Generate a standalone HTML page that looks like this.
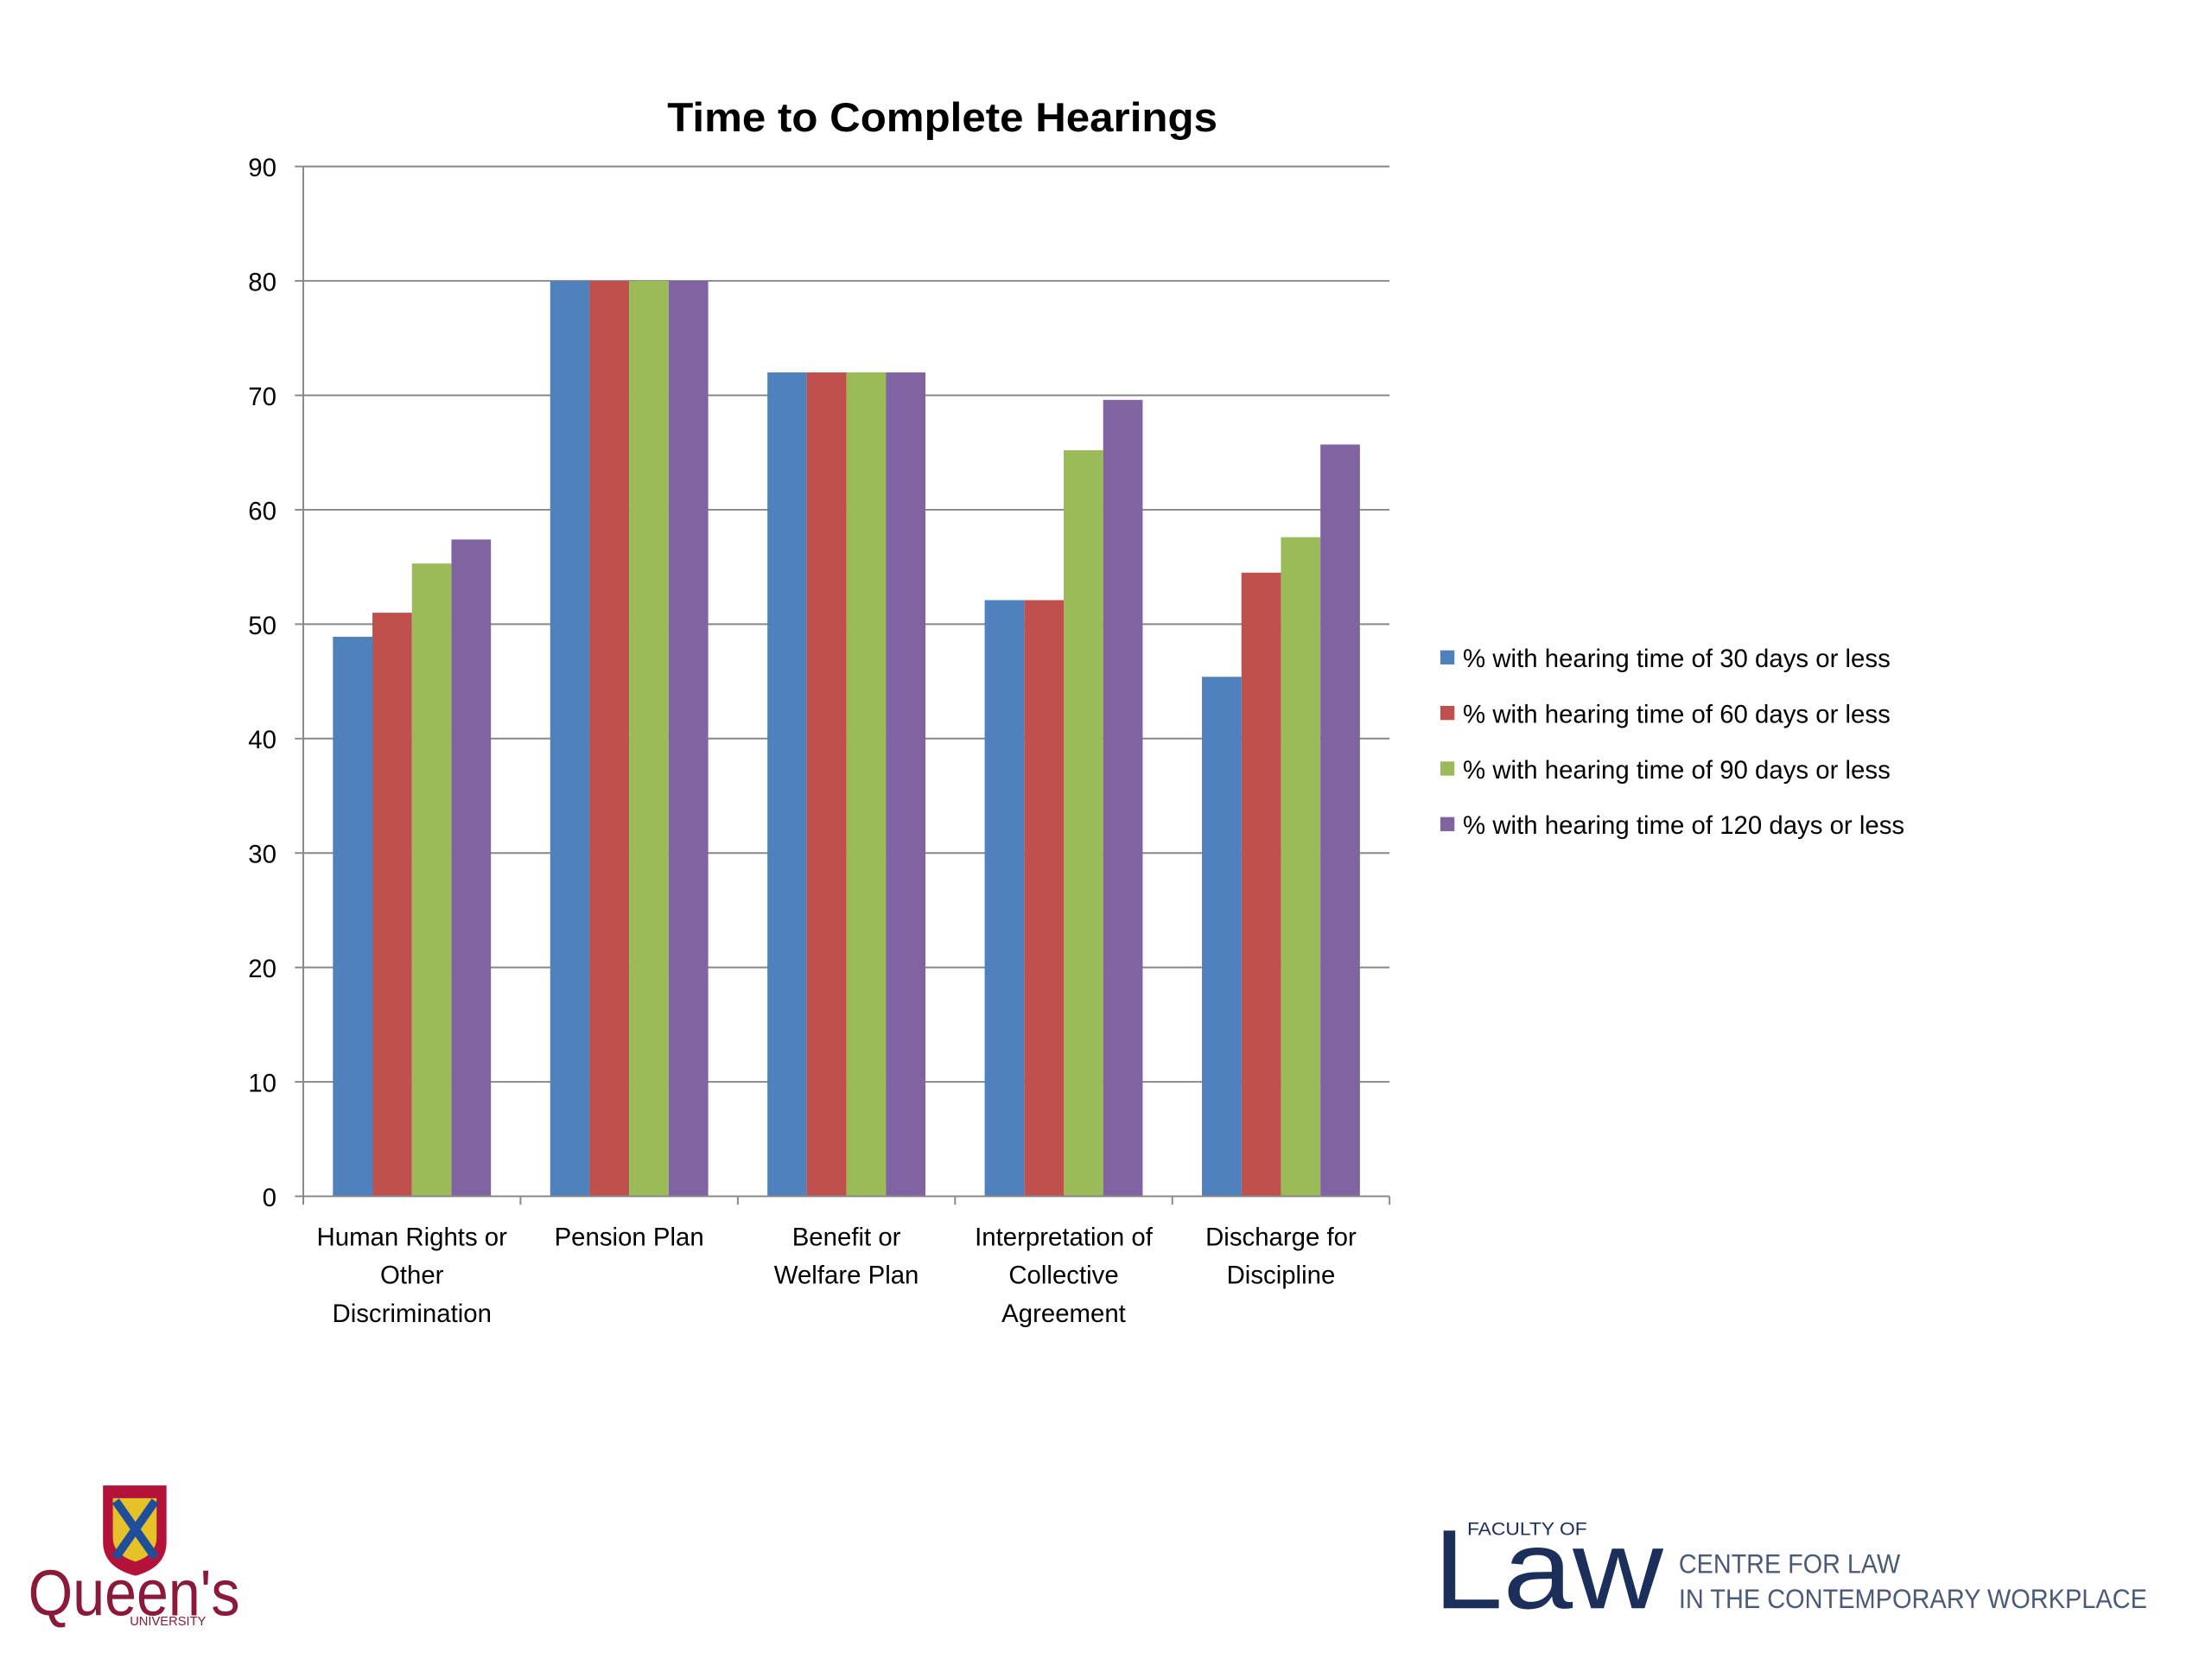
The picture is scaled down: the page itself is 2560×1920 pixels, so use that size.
<!DOCTYPE html>
<html><head><meta charset="utf-8"><style>
html,body{margin:0;padding:0;background:#fff;width:2560px;height:1920px;overflow:hidden}
svg{display:block}
text{font-family:"Liberation Sans",sans-serif}
</style></head><body>
<svg id="chart" width="2560" height="1920" viewBox="0 0 1568 1176" preserveAspectRatio="none" xmlns="http://www.w3.org/2000/svg">
<text x="668" y="93" text-anchor="middle" font-size="29" font-weight="bold" fill="#000" textLength="390" lengthAdjust="spacingAndGlyphs">Time to Complete Hearings</text>
<g id="grid"></g>
<g id="bars"></g>
<g id="axes"></g>
<g id="legend"></g>
<g>
<path d="M73 1053 h45 v40 q0 18 -22 24 q-23 -6 -23 -24z" fill="#b5123a"/>
<path d="M80 1062 h31 v28 q0 12 -15 17 q-16 -5 -16 -17z" fill="#e6c229"/>
<path d="M82 1064 l28 40 M110 1064 l-28 40" stroke="#1f4e9b" stroke-width="6"/>
<text x="20" y="1145" font-family="Liberation Serif,serif" font-size="46" fill="#8b1a3a" textLength="150" lengthAdjust="spacingAndGlyphs">Queen's</text>
<text x="92" y="1152" font-family="Liberation Serif,serif" font-size="9" fill="#8b1a3a">UNIVERSITY</text>
</g>
<g>
<text x="1040" y="1088" font-size="13" fill="#1b2f5a" textLength="85" lengthAdjust="spacingAndGlyphs">FACULTY OF</text>
<text x="1016" y="1140" font-family="Liberation Serif,serif" font-size="80" fill="#1b2f5a" textLength="163" lengthAdjust="spacingAndGlyphs">Law</text>
<text x="1190" y="1115" font-size="19" fill="#4a5a78" textLength="157" lengthAdjust="spacingAndGlyphs">CENTRE FOR LAW</text>
<text x="1190" y="1140" font-size="19" fill="#4a5a78" textLength="332" lengthAdjust="spacingAndGlyphs">IN THE CONTEMPORARY WORKPLACE</text>
</g>
</svg>
<script>
const categories = [["Human Rights or","Other","Discrimination"],["Pension Plan"],["Benefit or","Welfare Plan"],["Interpretation of","Collective","Agreement"],["Discharge for","Discipline"]];
const seriesNames = ["% with hearing time of 30 days or less","% with hearing time of 60 days or less","% with hearing time of 90 days or less","% with hearing time of 120 days or less"];
const s30 = [48.9, 80, 72, 52.1, 45.4];
const s60 = [51, 80, 72, 52.1, 54.5];
const s90 = [55.3, 80, 72, 65.2, 57.6];
const s120 = [57.4, 80, 72, 69.6, 65.7];
const yTicks = [0,10,20,30,40,50,60,70,80,90];

const colors = ["#4f81bd","#c0504d","#9bbb59","#8064a2"];
const series = [s30,s60,s90,s120];
const NS="http://www.w3.org/2000/svg";
const X0=215, X1=985, Y0=848, Y1=118, YMAX=90;
const y = v => Y0 - (v/YMAX)*(Y0-Y1);
const bandW = (X1-X0)/categories.length;
const x = i => X0 + i*bandW;
const barW = 28, pad = (bandW - barW*4)/2;
function mk(tag, attrs, parent){const e=document.createElementNS(NS,tag);for(const k in attrs)e.setAttribute(k,attrs[k]);parent.appendChild(e);return e;}
const grid=document.getElementById('grid'), bars=document.getElementById('bars'), axes=document.getElementById('axes'), legend=document.getElementById('legend');
yTicks.forEach(t=>{
  if(t>0){const l=mk('line',{x1:X0,x2:X1,y1:y(t),y2:y(t),stroke:'#888','stroke-width':1.2},grid);
  
  }
  const tk=mk('line',{x1:X0-6,x2:X0,y1:y(t),y2:y(t),stroke:'#888','stroke-width':1.2},axes);
  
  
  const tx=mk('text',{x:196,y:y(t)+7,'text-anchor':'end','font-size':18,fill:'#000'},axes);
  tx.textContent=t;
  
  
});
series.forEach((s,si)=>{
  s.forEach((v,ci)=>{
    const r=mk('rect',{x:x(ci)+pad+si*barW,y:y(v),width:barW,height:Y0-y(v),fill:colors[si]},bars);
    
    
  });
});
const ya=mk('line',{x1:X0,x2:X0,y1:Y1,y2:Y0,stroke:'#888','stroke-width':1.2},axes);


const xa=mk('line',{x1:X0,x2:X1,y1:Y0,y2:Y0,stroke:'#888','stroke-width':1.2},axes);


for(let i=0;i<=categories.length;i++){
  const t=mk('line',{x1:x(i),x2:x(i),y1:Y0,y2:Y0+6,stroke:'#888','stroke-width':1.2},axes);
  
  
}
categories.forEach((lines,ci)=>{
  lines.forEach((ln,li)=>{
    const t=mk('text',{x:x(ci)+bandW/2,y:883+li*27,'text-anchor':'middle','font-size':18,fill:'#000'},axes);
    t.textContent=ln;
    
    
  });
});
seriesNames.forEach((n,i)=>{
  const yy=466+i*39.4;
  const r=mk('rect',{x:1021,y:yy-5,width:10,height:10,fill:colors[i]},legend);
  
  
  const t=mk('text',{x:1037,y:yy+7,'font-size':18,fill:'#000'},legend);
  t.textContent=n;
  
  
});
</script>
</body></html>
